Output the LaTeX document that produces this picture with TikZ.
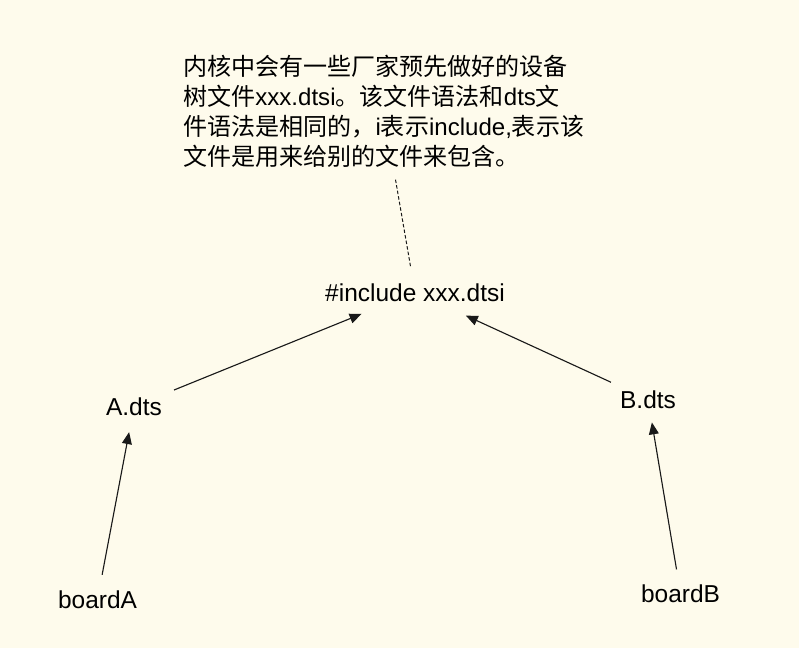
\documentclass[tikz,border=0pt]{standalone}
\usepackage{fontspec}
\setmainfont{Liberation Sans}
\newfontfamily\cjk{Noto Sans CJK SC}
\usetikzlibrary{arrows.meta,positioning}
\definecolor{bgcream}{RGB}{254,251,236}
\definecolor{linegray}{RGB}{25,25,25}

\tikzset{
  filename/.style={font=\fontsize{17.4}{21}\selectfont, inner sep=0pt, anchor=base},
  notetext/.style={font=\fontsize{17.1}{21.3}\selectfont, inner sep=0pt, align=left, anchor=north west},
  incarrow/.style={-{Triangle[length=8.5pt,width=7pt]}, line width=0.8pt, linegray},
  notedash/.style={dashed, dash pattern=on 2.5pt off 1.5pt, line width=0.7pt, linegray},
}

\begin{document}
\begin{tikzpicture}[x=0.025cm,y=-0.025cm]
  % Background
  \fill[bgcream] (0,0) rectangle (799,648);
  % Note about the dtsi file
  \node[notetext] (note) at (183,55) {{\cjk 内核中会有一些厂家预先做好的设备}\\
    {\cjk 树文件}xxx.dtsi{\cjk 。该文件语法和}dts{\cjk 文}\\
    {\cjk 件语法是相同的，}i{\cjk 表示}include,{\cjk 表示该}\\
    {\cjk 文件是用来给别的文件来包含。}};
  % Files
  \node[filename] (inc) at (415,301) {\#include xxx.dtsi};
  \node[filename] (adts) at (134,415) {A.dts};
  \node[filename] (bdts) at (648,408) {B.dts};
  \node[filename] (boarda) at (97.5,608) {boardA};
  \node[filename] (boardb) at (680.5,602) {boardB};
  % Links
  \draw[notedash, shorten <=8.5pt, shorten >=11pt] (note) -- (inc);
  \draw[incarrow, shorten <=13.2pt, shorten >=23.5pt] (adts) -- (inc);
  \draw[incarrow, shorten <=13.2pt, shorten >=24pt] (bdts) -- (inc);
  \draw[incarrow, shorten <=11pt, shorten >=12pt] (boarda) -- (adts);
  \draw[incarrow, shorten <=10.5pt, shorten >=10pt] (boardb) -- (bdts);
\end{tikzpicture}
\end{document}
